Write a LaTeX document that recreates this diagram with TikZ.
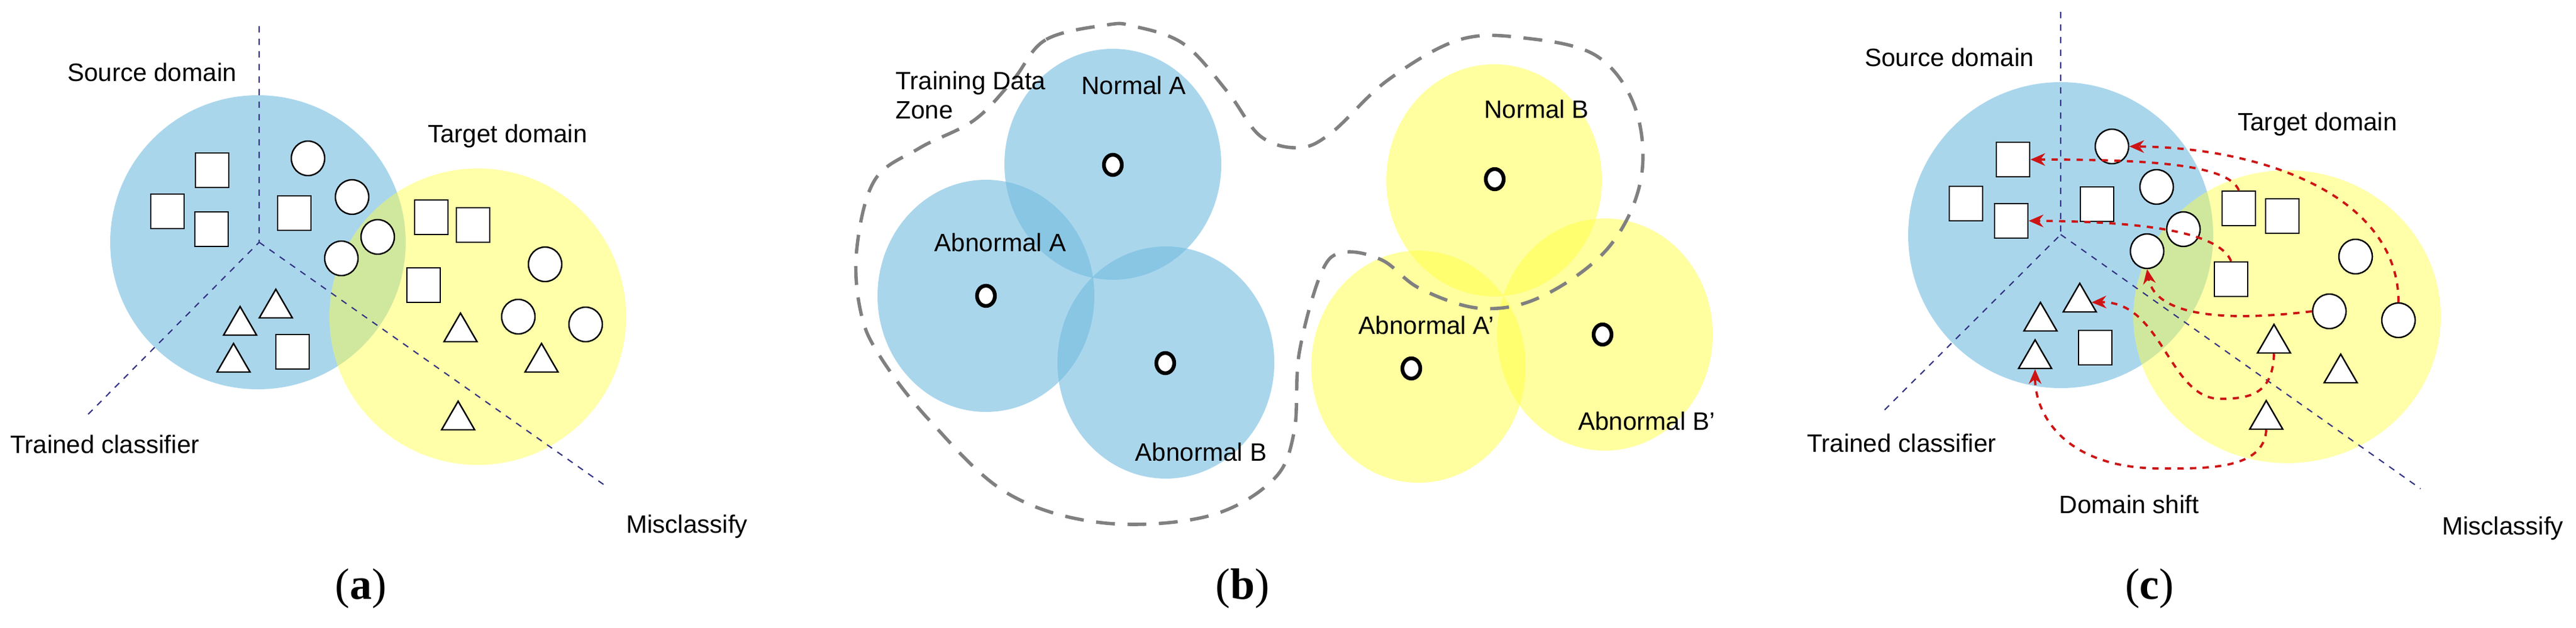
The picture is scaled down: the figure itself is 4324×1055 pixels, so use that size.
\documentclass[tikz,border=0pt]{standalone}
\usepackage{fontspec}
\setmainfont{Liberation Sans}
\newfontfamily\labfont{Liberation Serif}
\usetikzlibrary{shapes.geometric,arrows.meta}
\definecolor{bl}{RGB}{170,214,236}
\definecolor{blt}{RGB}{113,187,223}
\definecolor{yl}{RGB}{255,255,65}
\definecolor{dbl}{RGB}{50,50,130}
\definecolor{rd}{RGB}{205,20,20}
\begin{document}
\begin{tikzpicture}[x=0.01cm,y=-0.01cm,
  txt/.style={font=\fontsize{12}{14}\selectfont,inner sep=0pt},
  lab/.style={font=\labfont\fontsize{21}{24}\selectfont,inner sep=0pt},
  sq/.style={draw=black,fill=white,line width=0.7pt,minimum width=0.56cm,minimum height=0.58cm,inner sep=0pt},
  ci/.style={draw=black,fill=white,line width=0.7pt,ellipse,minimum width=0.56cm,minimum height=0.58cm,inner sep=0pt},
  tr/.style={draw=black,fill=white,line width=0.7pt,regular polygon,regular polygon sides=3,minimum size=0.64cm,inner sep=0pt},
  dot/.style={draw=black,fill=white,line width=1.8pt,ellipse,minimum width=0.3cm,minimum height=0.34cm,inner sep=0pt},
  cls/.style={draw=dbl,dashed,line width=0.6pt},
  sh/.style={draw=rd,dashed,line width=1.1pt,-{Stealth[length=7pt,width=6pt]}}]
\useasboundingbox (0,0) rectangle (4324,1055);
% ---------- (a)
\fill[bl] (433,407) ellipse [x radius=248,y radius=247];
\fill[yl,opacity=0.45] (802,532) ellipse [x radius=249,y radius=249];
\coordinate (ac) at (435,407);
\coordinate (at) at (435,44);
\coordinate (al) at (144,700);
\coordinate (ar) at (1019,818);
\draw[cls] (at)--(ac)--(al); \draw[cls] (ac)--(ar);
\foreach \x/\y [count=\i] in {356/286,281/355,355/385,494/358,724/365,794/378,711/479,491/591}
  \node[sq] (as\i) at (\x,\y) {};
\foreach \x/\y [count=\i] in {517/266,591/331,634/398,573/434,915/444,870/532,983/545}
  \node[ci] (ac\i) at (\x,\y) {};
\foreach \x/\y [count=\i] in {463/518,403/547,392/609,773/558,909/609,769/706}
  \node[tr] (at\i) at (\x,\y) {};
\node[txt] (asrc) at (255,121) {Source domain};
\node[txt] (atgt) at (852,229) {Target domain};
\node[txt] (atrn) at (176,746) {Trained classifier};
\node[txt] (amis) at (1153,885) {Misclassify};
\node[lab] (la) at (606,989) {(\textbf{a})};
% ---------- (b)
\begin{scope}[fill opacity=0.6]
\fill[blt] (1868,276) ellipse [x radius=182,y radius=194];
\fill[blt] (1655,497) ellipse [x radius=182,y radius=195];
\fill[blt] (1957,609) ellipse [x radius=182,y radius=195];
\end{scope}
\begin{scope}[fill opacity=0.5]
\fill[yl] (2508,303) ellipse [x radius=181,y radius=195];
\fill[yl] (2381,616) ellipse [x radius=180,y radius=195];
\fill[yl] (2694,562) ellipse [x radius=181,y radius=195];
\end{scope}
\draw[gray,dashed,line width=1.6pt,dash pattern=on 9pt off 6pt] plot[smooth cycle,tension=0.6] coordinates {
 (1857,42) (1755,67) (1700,135) (1635,202) (1543,249) (1468,303) (1438,420) (1445,525) (1478,600)
 (1561,707) (1690,828) (1848,878) (2024,868) (2135,808) (2172,727) (2181,592) (2218,458)
 (2255,424) (2320,437) (2384,485) (2486,518) (2588,498) (2699,417) (2754,303) (2745,182)
 (2680,94) (2560,64) (2449,67) (2329,135) (2236,222) (2181,248) (2116,229) (2061,155)
 (1987,74) (1903,44)};
\node[dot] (b1) at (1868,277) {};
\node[dot] (b2) at (1655,497) {};
\node[dot] (b3) at (1956,610) {};
\node[dot] (b4) at (2509,301) {};
\node[dot] (b5) at (2369,619) {};
\node[dot] (b6) at (2690,562) {};
\node[txt,align=left,anchor=west] (bz) at (1503,160) {Training Data\\Zone};
\node[txt] (bna) at (1903,143) {Normal A};
\node[txt] (baa) at (1679,407) {Abnormal A};
\node[txt] (bab) at (2016,759) {Abnormal B};
\node[txt] (bnb) at (2579,183) {Normal B};
\node[txt] (baa2) at (2394,546) {Abnormal A’};
\node[txt] (bab2) at (2764,707) {Abnormal B’};
\node[lab] (lb) at (2086,989) {(\textbf{b})};
% ---------- (c)
\fill[bl] (3459,395) ellipse [x radius=256,y radius=257];
\fill[yl,opacity=0.45] (3839,532) ellipse [x radius=258,y radius=246];
\coordinate (cc) at (3459,394);
\coordinate (ct) at (3459,20);
\coordinate (cl) at (3159,693);
\coordinate (cr) at (4063,821);
\draw[cls] (ct)--(cc)--(cl); \draw[cls] (cc)--(cr);
\foreach \x/\y [count=\i] in {3379/268,3300/342,3376/371,3520/343,3758/350,3831/363,3745/469,3517/584}
  \node[sq] (cs\i) at (\x,\y) {};
\foreach \x/\y [count=\i] in {3545/246,3620/314,3665/385,3604/422,3954/431,3910/523,4026/538}
  \node[ci] (cci\i) at (\x,\y) {};
\foreach \x/\y [count=\i] in {3491/508,3425/540,3416/603,3817/577,3929/627,3804/705}
  \node[tr] (ctr\i) at (\x,\y) {};
\draw[sh] (cci7.north) .. controls (4026,330) and (3800,248) .. (cci1.east);
\draw[sh] (cs5.north) .. controls (3740,275) and (3600,268) .. (cs1.east);
\draw[sh] (cs7.north) .. controls (3725,390) and (3600,372) .. (cs3.east);
\draw[sh] (cci6.west) .. controls (3700,545) and (3615,520) .. (cci4.south);
\draw[sh] (ctr4.south) .. controls (3815,660) and (3780,670) .. (3727,670) .. controls (3640,670) and (3630,505) .. (ctr1.east);
\draw[sh] (ctr6.south) .. controls (3800,790) and (3700,787) .. (3627,787) .. controls (3470,787) and (3416,700) .. (ctr3.south);
\node[txt] (csrc) at (3272,96) {Source domain};
\node[txt] (ctgt) at (3890,209) {Target domain};
\node[txt] (ctrn) at (3192,744) {Trained classifier};
\node[txt] (cds) at (3574,847) {Domain shift};
\node[txt] (cmis) at (4201,888) {Misclassify};
\node[lab] (lc) at (3608,989) {(\textbf{c})};
\end{tikzpicture}
\end{document}
